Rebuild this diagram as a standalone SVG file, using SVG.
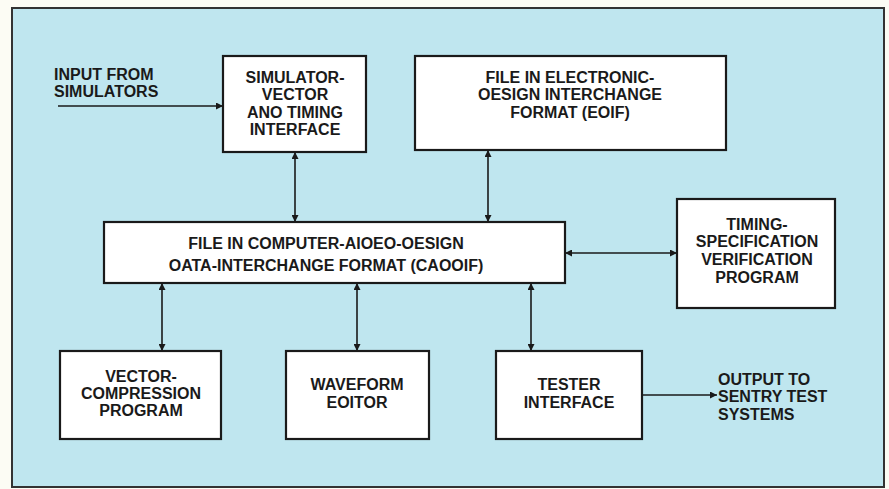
<svg xmlns="http://www.w3.org/2000/svg" width="889" height="489" viewBox="0 0 889 489">
<defs>
<marker id="ah" viewBox="0 0 10 10" refX="10" refY="5" markerWidth="7" markerHeight="7" markerUnits="userSpaceOnUse" orient="auto-start-reverse">
<path d="M0,0 L10,5 L0,10 z" fill="#1a1a1a"/>
</marker>
<style>
.box{fill:#ffffff;stroke:#1a1a1a;stroke-width:2.2}
.t{font-family:"Liberation Sans",Arial,sans-serif;font-weight:bold;font-size:16px;fill:#1a1a1a;text-anchor:middle}
.l{text-anchor:start}
.c{stroke:#1a1a1a;stroke-width:1.6;fill:none}
</style>
</defs>
<rect x="0" y="0" width="889" height="489" fill="#fcfcf4"/>
<rect x="12" y="8" width="872" height="479" fill="#bfe6ef" stroke="#333" stroke-width="2"/>
<g id="connectors">
<path class="c" d="M58,106 H223" marker-end="url(#ah)"/>
<path class="c" d="M295,152 V222" marker-start="url(#ah)" marker-end="url(#ah)"/>
<path class="c" d="M488,150 V222" marker-start="url(#ah)" marker-end="url(#ah)"/>
<path class="c" d="M565,253 H677" marker-start="url(#ah)" marker-end="url(#ah)"/>
<path class="c" d="M162,283 V351" marker-start="url(#ah)" marker-end="url(#ah)"/>
<path class="c" d="M357,283 V351" marker-start="url(#ah)" marker-end="url(#ah)"/>
<path class="c" d="M531,283 V351" marker-start="url(#ah)" marker-end="url(#ah)"/>
<path class="c" d="M642,395 H717" marker-end="url(#ah)"/>
</g>
<g id="input">
<text class="t l" x="54" y="80">INPUT FROM</text>
<text class="t l" x="54" y="97">SIMULATORS</text>
</g>
<g id="simulator">
<rect class="box" x="223" y="56" width="143" height="96"/>
<text class="t" x="295" y="83">SIMULATOR-</text>
<text class="t" x="295" y="100">VECTOR</text>
<text class="t" x="295" y="118">ANO TIMING</text>
<text class="t" x="295" y="135">INTERFACE</text>
</g>
<g id="edif">
<rect class="box" x="415" y="56" width="311" height="94"/>
<text class="t" x="570" y="83">FILE IN ELECTRONIC-</text>
<text class="t" x="570" y="100">OESIGN INTERCHANGE</text>
<text class="t" x="570" y="118">FORMAT (EOIF)</text>
</g>
<g id="caddif">
<rect class="box" x="104" y="222" width="461" height="61"/>
<text class="t" x="326" y="249">FILE IN COMPUTER-AIOEO-OESIGN</text>
<text class="t" x="326" y="271">OATA-INTERCHANGE FORMAT (CAOOIF)</text>
</g>
<g id="timing">
<rect class="box" x="677" y="199" width="158" height="109"/>
<text class="t" x="757" y="230">TIMING-</text>
<text class="t" x="757" y="247">SPECIFICATION</text>
<text class="t" x="757" y="265">VERIFICATION</text>
<text class="t" x="757" y="283">PROGRAM</text>
</g>
<g id="vector">
<rect class="box" x="60" y="351" width="161" height="88"/>
<text class="t" x="141" y="382">VECTOR-</text>
<text class="t" x="141" y="399">COMPRESSION</text>
<text class="t" x="141" y="416">PROGRAM</text>
</g>
<g id="waveform">
<rect class="box" x="286" y="351" width="143" height="88"/>
<text class="t" x="357" y="390">WAVEFORM</text>
<text class="t" x="357" y="408">EOITOR</text>
</g>
<g id="tester">
<rect class="box" x="496" y="351" width="146" height="88"/>
<text class="t" x="569" y="390">TESTER</text>
<text class="t" x="569" y="408">INTERFACE</text>
</g>
<g id="output">
<text class="t l" x="718" y="385">OUTPUT TO</text>
<text class="t l" x="718" y="402">SENTRY TEST</text>
<text class="t l" x="718" y="420">SYSTEMS</text>
</g>
</svg>
